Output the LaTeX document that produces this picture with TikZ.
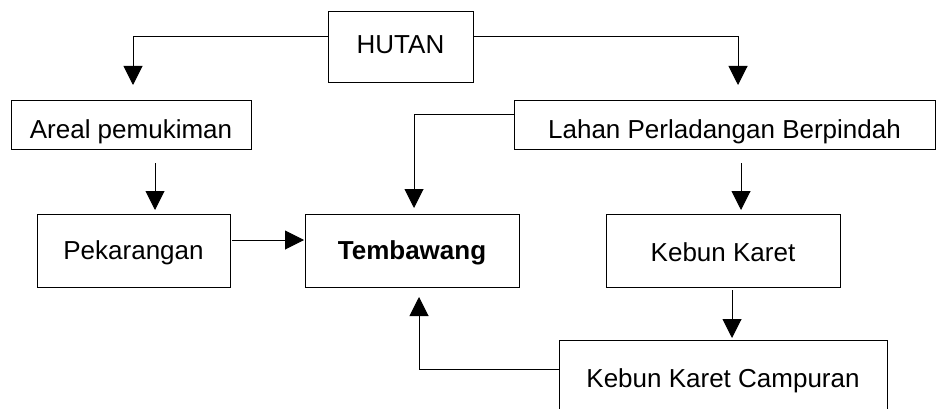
\documentclass[tikz,border=0pt]{standalone}
\usepackage{fontspec}
\setmainfont{Liberation Sans}
\usetikzlibrary{arrows.meta}
\begin{document}
\begin{tikzpicture}[x=1pt,y=-1pt,
  box/.style={draw=black,line width=1pt,inner sep=0pt,outer sep=0pt,
    font=\fontsize{26}{30}\selectfont,text height=18.6pt,text depth=0pt},
  arr/.style={line width=1pt,-{Triangle[length=19pt,width=19pt]}}]
\useasboundingbox (0,0) rectangle (936,409);
\node[box,minimum width=145pt,minimum height=71pt,text height=11.6pt] (hutan) at (400.5,47.5) {HUTAN};
\node[box,minimum width=240pt,minimum height=48pt,text height=27.6pt] (areal) at (131,125) {Areal pemukiman};
\node[box,minimum width=421pt,minimum height=48pt,text height=27.6pt] (lahan) at (724.5,125) {Lahan Perladangan Berpindah};
\node[box,minimum width=193pt,minimum height=73pt] (pek) at (133.5,250.5) {Pekarangan};
\node[box,minimum width=214pt,minimum height=73pt,font=\fontsize{26}{30}\selectfont\bfseries] (tem) at (412,250.5) {Tembawang};
\node[box,minimum width=234pt,minimum height=73pt,text height=21pt] (kk) at (723,250.5) {Kebun Karet};
\node[box,minimum width=328pt,minimum height=73pt,text height=22.6pt] (kkc) at (723,376.5) {Kebun Karet Campuran};
% bend / alignment coordinates
\coordinate (h1) at (133,37);
\coordinate (h2) at (738,37);
\coordinate (l1) at (414,115);
\coordinate (a1) at (155,0);
\coordinate (b1) at (741,0);
\coordinate (p1) at (0,240);
\coordinate (k1) at (732,0);
\coordinate (c1) at (419,369);
% connectors
\draw[arr,shorten >=16pt] (hutan.west |- h1) -- (h1) -- (h1 |- areal.north);
\draw[arr,shorten >=16pt] (hutan.east |- h2) -- (h2) -- (h2 |- lahan.north);
\draw[arr,shorten >=6pt] (lahan.west |- l1) -- (l1) -- (l1 |- tem.north);
\draw[arr,shorten <=14pt,shorten >=4pt] (areal.south -| a1) -- (pek.north -| a1);
\draw[arr,shorten <=14pt,shorten >=4pt] (lahan.south -| b1) -- (kk.north -| b1);
\draw[arr,shorten <=2pt,shorten >=1pt] (pek.east |- p1) -- (tem.west |- p1);
\draw[arr,shorten <=3pt,shorten >=2pt] (kk.south -| k1) -- (kkc.north -| k1);
\draw[arr,shorten >=10pt] (kkc.west |- c1) -- (c1) -- (c1 |- tem.south);
\end{tikzpicture}
\end{document}
